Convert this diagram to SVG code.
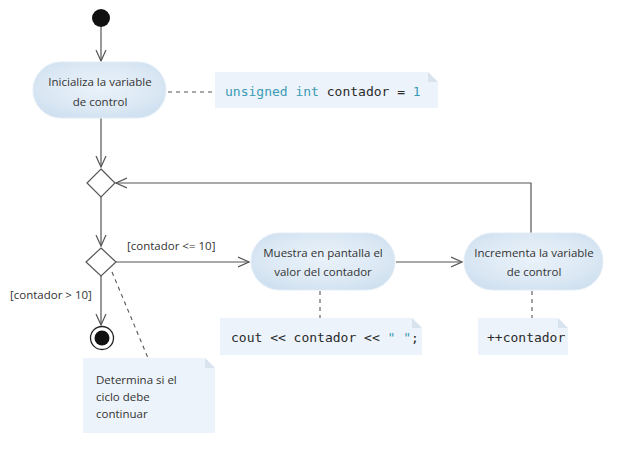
<svg xmlns="http://www.w3.org/2000/svg" width="624" height="451" viewBox="0 0 624 451">
<defs>
<radialGradient id="pill" cx="50%" cy="45%" r="60%">
<stop offset="0%" stop-color="#eaf2fa"/>
<stop offset="70%" stop-color="#dbe8f4"/>
<stop offset="100%" stop-color="#cfe0f0"/>
</radialGradient>
<marker id="arr" viewBox="0 0 12 12" refX="11" refY="6" markerWidth="12" markerHeight="12" markerUnits="userSpaceOnUse" orient="auto">
<path d="M0,1 L11,6 L0,11" fill="none" stroke="#555" stroke-width="1.2"/>
</marker>
</defs>
<style>
.pill{fill:url(#pill);stroke:#e3edf7;stroke-width:1}
.lbl{font-family:"Open Sans","Liberation Sans",sans-serif;font-size:11.5px;fill:#333;text-anchor:middle}
.guard{font-family:"Open Sans","Liberation Sans",sans-serif;font-size:11.5px;fill:#333}
.note{fill:#edf3fa}
.fold{fill:#d9e3ee}
.code{font-family:"DejaVu Sans Mono","Liberation Mono",monospace;font-size:13px;fill:#2a2a2a}
.kw{fill:#3a9bb5}
.conn{fill:none;stroke:#555;stroke-width:1.2}
.dash{fill:none;stroke:#555;stroke-width:1.1;stroke-dasharray:4,4}
.dia{fill:#fff;stroke:#555;stroke-width:1.2}
</style>

<g id="connectors">
<line class="conn" x1="101" y1="27" x2="101" y2="61" marker-end="url(#arr)"/>
<line class="conn" x1="101" y1="118" x2="101" y2="167" marker-end="url(#arr)"/>
<polyline class="conn" points="531,233 531,183 116,183" marker-end="url(#arr)"/>
<line class="conn" x1="101" y1="197" x2="101" y2="246" marker-end="url(#arr)"/>
<line class="conn" x1="116" y1="262" x2="249" y2="262" marker-end="url(#arr)"/>
<line class="conn" x1="396" y1="262" x2="462" y2="262" marker-end="url(#arr)"/>
<line class="conn" x1="101" y1="276" x2="101" y2="325" marker-end="url(#arr)"/>
<line class="dash" x1="168" y1="92" x2="214" y2="92"/>
<line class="dash" x1="320" y1="291" x2="320" y2="318"/>
<line class="dash" x1="532" y1="291" x2="532" y2="318"/>
<line class="dash" x1="112" y1="272" x2="148" y2="358"/>
</g>

<g id="start">
<circle cx="101" cy="18" r="9" fill="#111"/>
</g>

<g id="init">
<rect class="pill" x="33" y="62" width="133" height="56" rx="28"/>
<text class="lbl" x="100" y="86">Inicializa la variable</text>
<text class="lbl" x="100" y="106">de control</text>
</g>

<g id="note-init">
<path class="note" d="M215,72 H428 L438,82 V108 H215 Z"/>
<path class="fold" d="M428,72 L438,82 H428 Z"/>
<text class="code" x="225" y="96"><tspan class="kw">unsigned int</tspan> contador = <tspan class="kw">1</tspan></text>
</g>

<g id="merge">
<polygon class="dia" points="101,169 115,183 101,197 87,183"/>
</g>

<g id="decision">
<polygon class="dia" points="101,248 116,262 101,276 86,262"/>
</g>

<g id="guard-true">
<text class="guard" x="127" y="250">[contador &lt;= 10]</text>
</g>
<g id="guard-false">
<text class="guard" x="10" y="299">[contador &gt; 10]</text>
</g>

<g id="print">
<rect class="pill" x="251" y="233" width="144" height="57" rx="28.5"/>
<text class="lbl" x="323" y="257">Muestra en pantalla el</text>
<text class="lbl" x="323" y="276">valor del contador</text>
</g>

<g id="increment">
<rect class="pill" x="464" y="233" width="139" height="57" rx="28.5"/>
<text class="lbl" x="534" y="257">Incrementa la variable</text>
<text class="lbl" x="534" y="276">de control</text>
</g>

<g id="note-print">
<path class="note" d="M220,318 H412 L422,328 V355 H220 Z"/>
<path class="fold" d="M412,318 L422,328 H412 Z"/>
<text class="code" x="231" y="342">cout &lt;&lt; contador &lt;&lt; <tspan class="kw">" "</tspan>;</text>
</g>

<g id="note-inc">
<path class="note" d="M478,318 H558 L568,328 V355 H478 Z"/>
<path class="fold" d="M558,318 L568,328 H558 Z"/>
<text class="code" x="487" y="342">++contador</text>
</g>

<g id="final">
<circle cx="102" cy="338" r="11.5" fill="#fff" stroke="#222" stroke-width="1.3"/>
<circle cx="102" cy="338" r="7.5" fill="#111"/>
</g>

<g id="note-decision">
<path class="note" d="M83,358 H205 L215,368 V433 H83 Z"/>
<path class="fold" d="M205,358 L215,368 H205 Z"/>
<text class="guard" x="96" y="384">Determina si el</text>
<text class="guard" x="96" y="401">ciclo debe</text>
<text class="guard" x="96" y="418">continuar</text>
</g>
</svg>
